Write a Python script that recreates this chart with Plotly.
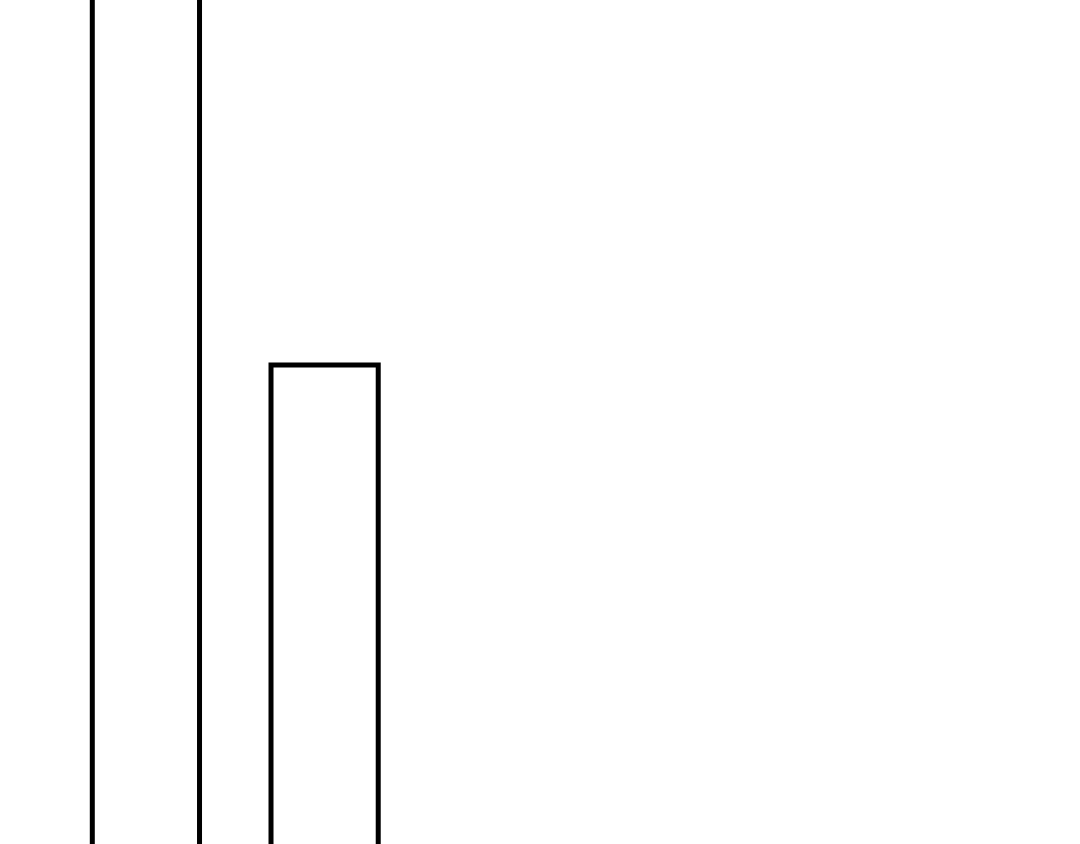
import plotly.graph_objects as go

# categories and bar heights (only two bars are visible in the view)
categories = ["A", "B"]
values = [9.0, 5.4]

fig = go.Figure()
fig.add_trace(go.Bar(
    x=categories,
    y=values,
    marker=dict(color="white", line=dict(color="black", width=5)),
    showlegend=False,
))

# the view is a close crop: the axes sit outside the visible area
fig.update_xaxes(range=[-0.8165, 5.227], visible=False, showgrid=False, zeroline=False)
fig.update_yaxes(range=[2.0, 7.99], visible=False, showgrid=False, zeroline=False)
fig.update_layout(
    width=1080, height=844,
    margin=dict(l=0, r=0, t=0, b=0),
    bargap=0.4,
    paper_bgcolor="white",
    plot_bgcolor="white",
)
# drop the browser's default body margin so the figure fills the window
fig.write_html(
    "out.html",
    config={"displayModeBar": False},
    post_script="document.body.style.margin='0';",
)
